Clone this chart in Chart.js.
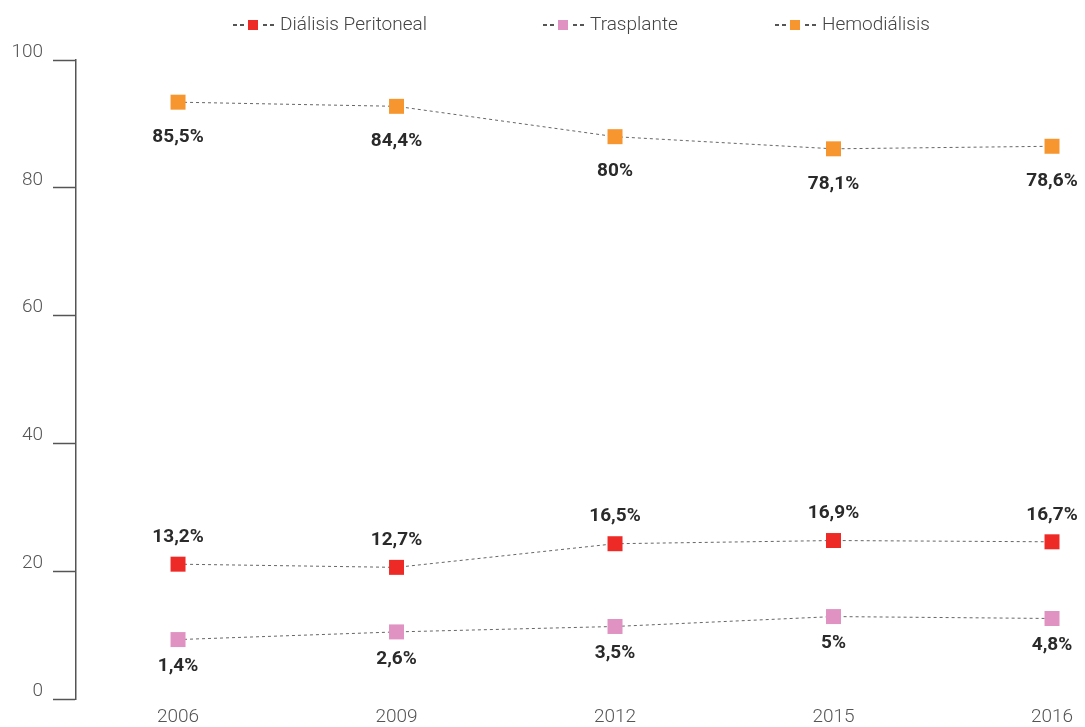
<!DOCTYPE html>
<html>
<head>
<meta charset="utf-8">
<script src="https://cdn.jsdelivr.net/npm/chart.js@4/dist/chart.umd.min.js"></script>
<style>
    html, body { margin: 0; padding: 0; background: #fff; overflow: hidden; }
    #wrap { position: relative; width: 1085px; height: 727px; }
</style>
</head>
<body>
<div id="wrap"><canvas id="chart"></canvas></div>
<script>
// values
const years = ["2006", "2009", "2012", "2015", "2016"];
const seriesNames = ["Diálisis Peritoneal", "Trasplante", "Hemodiálisis"];
const dialisisValues = [21.1, 20.6, 24.3, 24.8, 24.6];
const trasplanteValues = [9.3, 10.5, 11.35, 12.9, 12.6];
const hemodialisisValues = [93.4, 92.75, 88.0, 86.1, 86.5];
const dialisisLabels = ["13,2%", "12,7%", "16,5%", "16,9%", "16,7%"];
const trasplanteLabels = ["1,4%", "2,6%", "3,5%", "5%", "4,8%"];
const hemodialisisLabels = ["85,5%", "84,4%", "80%", "78,1%", "78,6%"];
const yTicks = [0, 20, 40, 60, 80, 100];

const colors = ["#ee2a26", "#e092c2", "#f7962f"];
const labelShift = [-27, 27, 35];   // where the value text sits relative to the marker
const legendX = [233, 543, 775];

const toPoints = vals => vals.map((v, i) => ({ x: i, y: v }));

function makeSet(name, vals, labels, color, shift) {
    return {
        label: name,
        data: toPoints(vals),
        valueLabels: labels,
        labelShift: shift,
        borderColor: "#666",
        borderWidth: 1,
        borderDash: [3, 3],
        fill: false,
        tension: 0,
        pointStyle: "rect",
        pointRadius: 10.6,
        pointHoverRadius: 10.6,
        pointBackgroundColor: color,
        pointBorderWidth: 0
    };
}

const valueLabelPlugin = {
    id: "valueLabels",
    afterDatasetsDraw(chart) {
        const ctx = chart.ctx;
        ctx.save();
        ctx.font = "bold 19px Roboto";
        ctx.fillStyle = "#2a2a2a";
        ctx.textAlign = "center";
        ctx.textBaseline = "middle";
        chart.data.datasets.forEach((ds, d) => {
            chart.getDatasetMeta(d).data.forEach((pt, i) => {
                ctx.fillText(ds.valueLabels[i], pt.x, pt.y + ds.labelShift);
            });
        });
        ctx.restore();
    }
};

// legend: dashed line with the square in the middle, then the name
const legendPlugin = {
    id: "dashLegend",
    afterDraw(chart) {
        const ctx = chart.ctx;
        const y = 25;
        ctx.save();
        chart.data.datasets.forEach((ds, d) => {
            const x = legendX[d];
            ctx.strokeStyle = "#555";
            ctx.lineWidth = 2;
            ctx.setLineDash([4, 3]);
            ctx.beginPath();
            ctx.moveTo(x, y);
            ctx.lineTo(x + 11, y);
            ctx.moveTo(x + 30, y);
            ctx.lineTo(x + 41, y);
            ctx.stroke();
            ctx.setLineDash([]);
            ctx.fillStyle = colors[d];
            ctx.fillRect(x + 15, y - 5, 10, 10);
            ctx.font = "300 19px Roboto";
            ctx.fillStyle = "#444";
            ctx.textAlign = "left";
            ctx.textBaseline = "middle";
            ctx.fillText(ds.label, x + 47, y);
        });
        ctx.restore();
    }
};

new Chart(document.getElementById("chart"), {
    type: "line",
    data: {
        datasets: [
            makeSet(seriesNames[0], dialisisValues, dialisisLabels, colors[0], labelShift[0]),
            makeSet(seriesNames[1], trasplanteValues, trasplanteLabels, colors[1], labelShift[1]),
            makeSet(seriesNames[2], hemodialisisValues, hemodialisisLabels, colors[2], labelShift[2])
        ]
    },
    options: {
        responsive: true,
        maintainAspectRatio: false,
        animation: false,
        layout: { autoPadding: false, padding: { top: 60, right: 0, bottom: 0, left: 0 } },
        plugins: { legend: { display: false }, tooltip: { enabled: false } },
        scales: {
            x: {
                type: "linear",
                min: -0.467,
                max: 4.151,
                afterBuildTicks: scale => { scale.ticks = years.map((_, i) => ({ value: i })); },
                afterFit: scale => {
                    scale.height = 28;
                    scale.paddingLeft = 0;
                    scale.paddingRight = 0;
                },
                ticks: {
                    callback: v => years[v],
                    color: "#555",
                    font: { family: "Roboto", size: 19, weight: 300 },
                    padding: 7,
                    maxRotation: 0
                },
                grid: { display: false, drawTicks: false },
                border: { display: false }
            },
            y: {
                min: 0,
                max: 100,
                afterFit: scale => {
                    scale.width = 76;
                    scale.paddingBottom = 0;
                },
                afterBuildTicks: scale => { scale.ticks = yTicks.map(v => ({ value: v })); },
                ticks: {
                    color: "#555",
                    font: { family: "Roboto", size: 19, weight: 300 },
                    padding: 10,
                    labelOffset: -8
                },
                grid: { drawOnChartArea: false, tickLength: 23, tickColor: "#555", tickWidth: 1.5 },
                border: { display: true, color: "#555", width: 1.5 }
            }
        }
    },
    plugins: [valueLabelPlugin, legendPlugin]
});
</script>
</body>
</html>
